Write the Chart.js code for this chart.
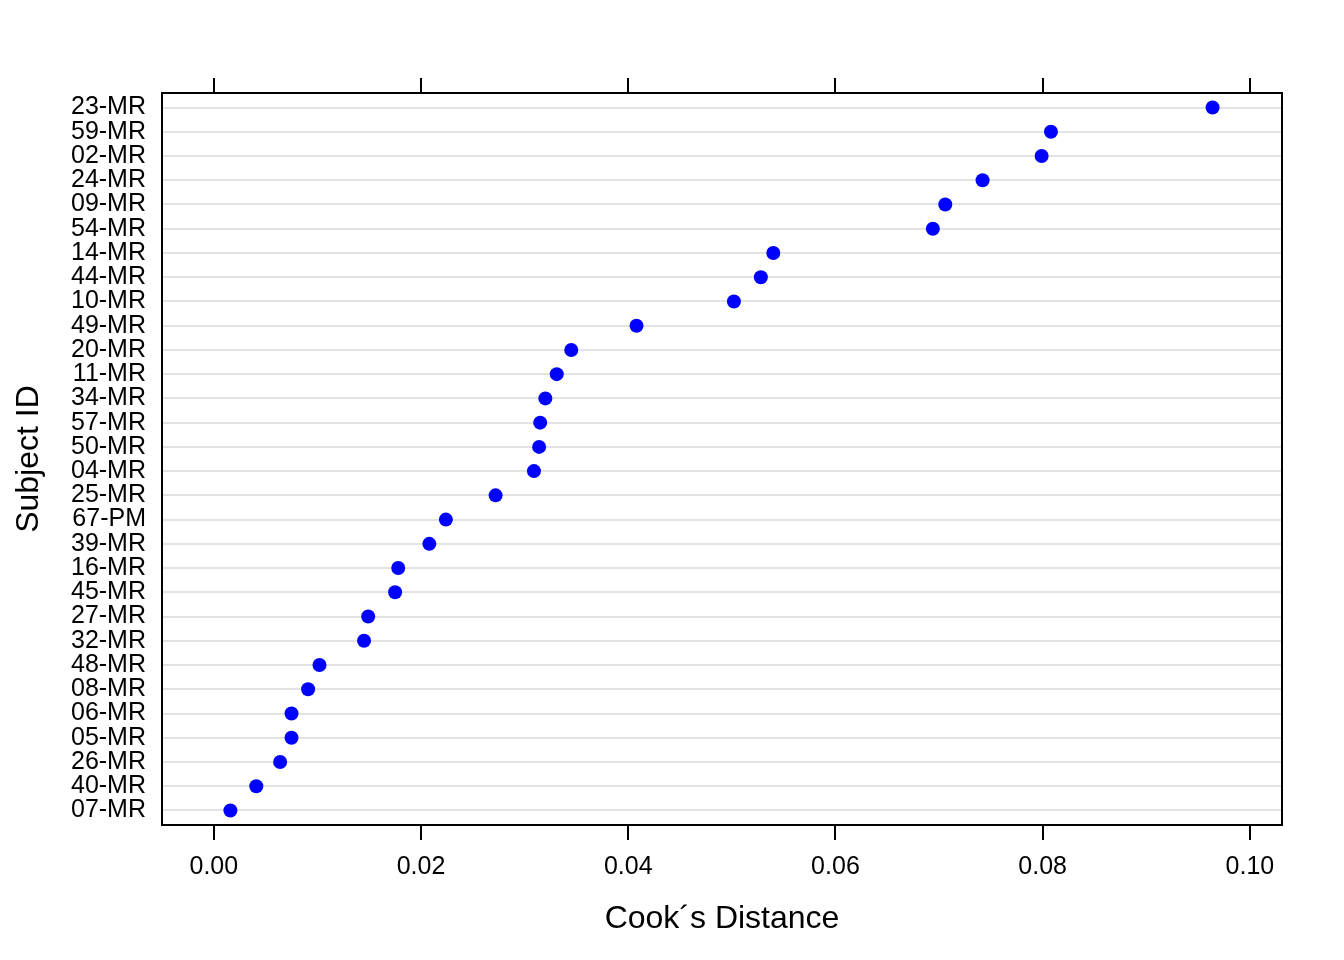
<!DOCTYPE html>
<html>
<head>
<meta charset="utf-8">
<title>Cook's Distance by Subject</title>
<script src="https://cdn.jsdelivr.net/npm/chart.js@4/dist/chart.umd.min.js"></script>
<style>
  html, body { margin: 0; padding: 0; background: #fff; }
  #wrap { width: 1344px; height: 960px; }
</style>
</head>
<body>
<div id="wrap"><canvas id="cooks"></canvas></div>
<script>
'use strict';

/* Data — subjects ordered top to bottom */
const subjects = [
  '23-MR', '59-MR', '02-MR', '24-MR', '09-MR', '54-MR', '14-MR', '44-MR',
  '10-MR', '49-MR', '20-MR', '11-MR', '34-MR', '57-MR', '50-MR', '04-MR',
  '25-MR', '67-PM', '39-MR', '16-MR', '45-MR', '27-MR', '32-MR', '48-MR',
  '08-MR', '06-MR', '05-MR', '26-MR', '40-MR', '07-MR',
];
const cooksD = [
  0.0964, 0.0808, 0.0799, 0.0742, 0.0706, 0.0694, 0.0540, 0.0528,
  0.0502, 0.0408, 0.0345, 0.0331, 0.0320, 0.0315, 0.0314, 0.0309,
  0.0272, 0.0224, 0.0208, 0.0178, 0.0175, 0.0149, 0.0145, 0.0102,
  0.0091, 0.0075, 0.0075, 0.0064, 0.0041, 0.0016,
];
const xTicks = [0, 0.02, 0.04, 0.06, 0.08, 0.10];

/* Style constants */
const C_DOT  = '#0000ff';
const C_GRID = '#e3e3e3';
const C_INK  = '#000000';
const FONT   = '"Liberation Sans", Arial, Helvetica, sans-serif';

const X_MIN = -0.005, X_MAX = 0.1031;

/* Box around the panel */
const boxPlugin = {
  id: 'panelBox',
  afterDraw(chart) {
    const { ctx, chartArea: a } = chart;
    ctx.save();
    ctx.strokeStyle = C_INK;
    ctx.lineWidth = 2;
    ctx.strokeRect(a.left, a.top, a.right - a.left, a.bottom - a.top);
    ctx.restore();
  },
};

const setXTicks = scale => { scale.ticks = xTicks.map(v => ({ value: v })); };

new Chart(document.getElementById('cooks').getContext('2d'), {
  type: 'scatter',
  data: {
    datasets: [{
      label: "Cook's Distance",
      data: cooksD.map((v, i) => ({ x: v, y: i })),
      backgroundColor: C_DOT,
      borderWidth: 0,
      pointRadius: 7,
      pointHoverRadius: 7,
    }],
  },
  options: {
    responsive: true,
    maintainAspectRatio: false,
    animation: false,
    layout: { padding: { left: 0, right: 62, top: 0, bottom: 0 } },
    plugins: { legend: { display: false }, tooltip: { enabled: false } },
    scales: {
      x: {
        type: 'linear',
        position: 'bottom',
        min: X_MIN, max: X_MAX,
        afterBuildTicks: setXTicks,
        afterFit: s => { s.height = 135; },
        border: { display: false },
        grid: { drawOnChartArea: false, drawTicks: true, tickLength: 15, color: C_INK, lineWidth: 2 },
        ticks: {
          color: C_INK, padding: 12, maxRotation: 0,
          font: { family: FONT, size: 25 },
          callback: v => v.toFixed(2),
        },
        title: {
          display: true, text: 'Cook\u00b4s Distance', color: C_INK,
          font: { family: FONT, size: 32 }, padding: { top: 0, bottom: 22 },
        },
      },
      x2: {
        type: 'linear',
        position: 'top',
        min: X_MIN, max: X_MAX,
        afterBuildTicks: setXTicks,
        afterFit: s => { s.height = 93; },
        border: { display: false },
        grid: { drawOnChartArea: false, drawTicks: true, tickLength: 15, color: C_INK, lineWidth: 2 },
        ticks: { display: false },
      },
      y: {
        type: 'linear',
        reverse: true,
        min: -0.6, max: subjects.length - 1 + 0.6,
        afterBuildTicks: s => { s.ticks = subjects.map((_, i) => ({ value: i })); },
        afterFit: s => { s.width = 162; },
        border: { display: false },
        grid: { drawTicks: false, color: C_GRID, lineWidth: 2 },
        ticks: {
          color: C_INK, padding: 16, autoSkip: false,
          font: { family: FONT, size: 25, lineHeight: 1.0 },
          callback: v => subjects[v],
        },
        title: {
          display: true, text: 'Subject ID', color: C_INK,
          font: { family: FONT, size: 32 }, padding: { top: 10, bottom: 0 },
        },
      },
    },
  },
  plugins: [boxPlugin],
});
</script>
</body>
</html>
